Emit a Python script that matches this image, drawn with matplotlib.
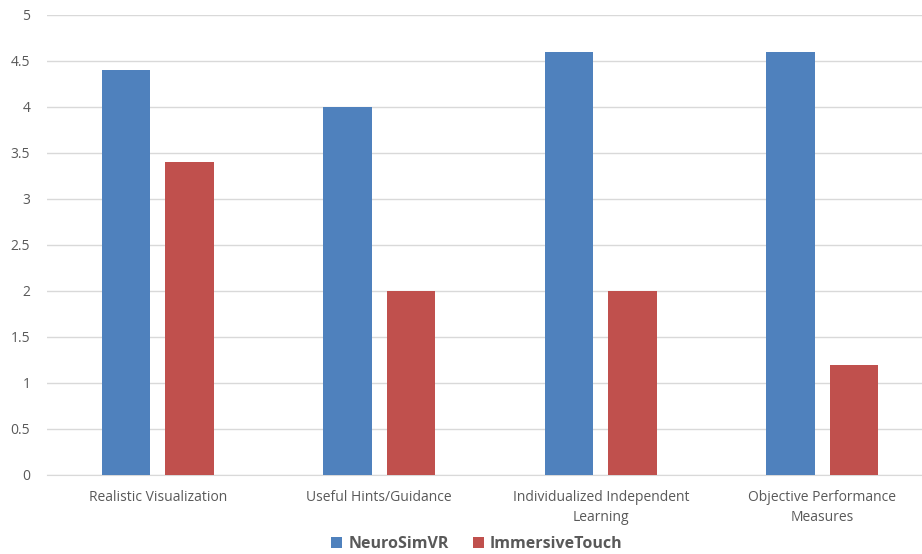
import numpy as np
from matplotlib import pyplot as plt

categories = ['Realistic Visualization', 'Useful Hints/Guidance',
              'Individualized Independent\nLearning', 'Objective Performance\nMeasures']
neuro = [4.4, 4.0, 4.6, 4.6]
immersive = [3.4, 2.0, 2.0, 1.2]

plt.rcParams['font.family'] = ['Open Sans', 'DejaVu Sans']
fig = plt.figure(figsize=(9.22, 5.54), dpi=100)
ax = fig.add_axes([0.051, 0.1426, 0.949, 0.8304])

x = np.arange(len(categories))
w = 0.22
ax.bar(x - 0.143, neuro, w, color='#4F81BD', label='NeuroSimVR', zorder=3)
ax.bar(x + 0.143, immersive, w, color='#C0504D', label='ImmersiveTouch', zorder=3)

ax.set_ylim(0, 5)
ax.set_xlim(-0.5, 3.45)
ax.set_yticks(np.arange(0, 5.01, 0.5))
ax.set_yticklabels(['0', '0.5', '1', '1.5', '2', '2.5', '3', '3.5', '4', '4.5', '5'])
ax.set_xticks(x)
ax.set_xticklabels(categories, linespacing=1.45)
ax.tick_params(axis='both', length=0, colors='#595959', labelsize=10)
ax.tick_params(axis='x', pad=11)
ax.tick_params(axis='y', pad=12)
ax.grid(axis='y', color='#D9D9D9', linewidth=1, zorder=0)
for s in ['top', 'right', 'left']:
    ax.spines[s].set_visible(False)
ax.spines['bottom'].set_color('#D9D9D9')

leg = fig.legend(loc='lower center', bbox_to_anchor=(0.517, -0.022), ncol=2, frameon=False,
                 handlelength=0.7, handleheight=0.7, handletextpad=0.4, columnspacing=1.5,
                 prop={'weight': 'bold', 'size': 11.5})
for t in leg.get_texts():
    t.set_color('#595959')

plt.savefig('out.png')
